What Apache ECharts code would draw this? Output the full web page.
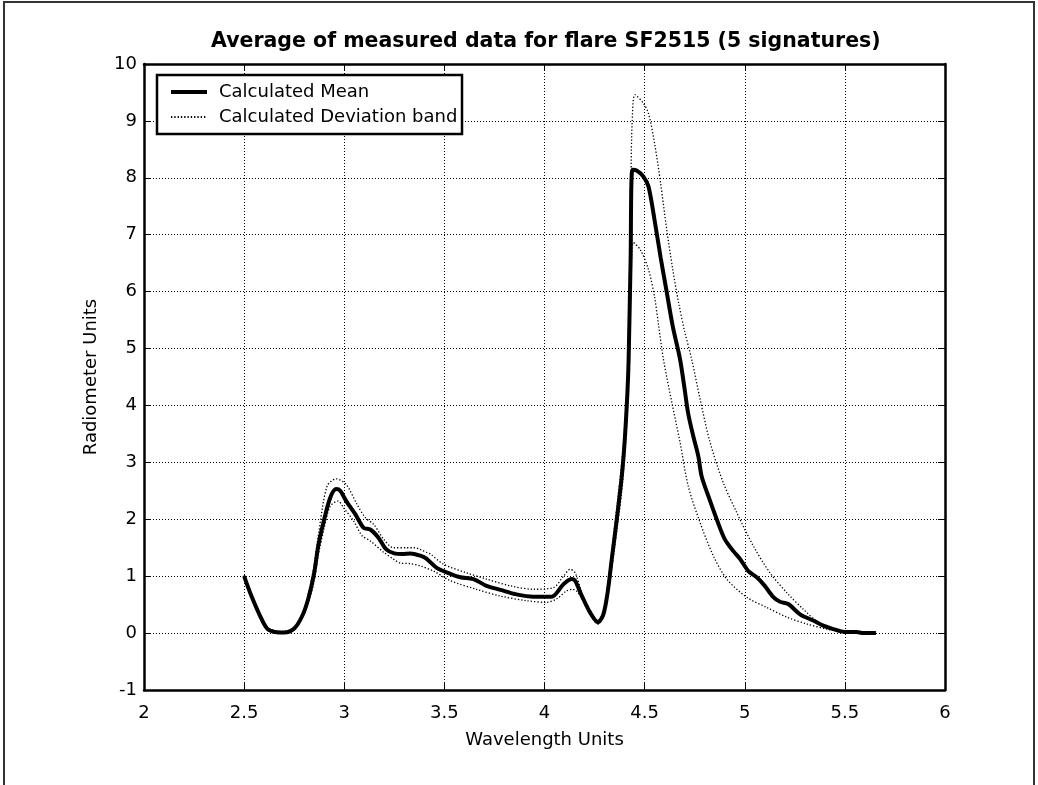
<!DOCTYPE html>
<html>
<head>
<meta charset="utf-8">
<script src="https://cdn.jsdelivr.net/npm/echarts@6/dist/echarts.min.js"></script>
<style>
html,body{margin:0;padding:0;background:#fff;}
#chart{width:1038px;height:785px;}
</style>
</head>
<body>
<div id="chart"></div>
<script>
// ---- data ----
const titleText = 'Average of measured data for flare SF2515 (5 signatures)';
const xName = 'Wavelength Units';
const yName = 'Radiometer Units';
const legendNames = ['Calculated Mean', 'Calculated Deviation band'];

const meanX = [2.50,2.53,2.58,2.615,2.655,2.70,2.75,2.79,2.82,2.85,2.87,2.90,2.93,2.96,2.98,3.01,3.055,3.097,3.13,3.17,3.21,3.25,3.29,3.33,3.38,3.41,3.46,3.53,3.58,3.645,3.71,3.78,3.86,3.945,4.035,4.095,4.137,4.153,4.187,4.228,4.267,4.294,4.315,4.336,4.361,4.386,4.40,4.414,4.42,4.43,4.439,4.46,4.494,4.519,4.55,4.58,4.61,4.64,4.677,4.70,4.718,4.743,4.768,4.785,4.818,4.86,4.90,4.943,4.977,5.018,5.06,5.10,5.143,5.176,5.217,5.276,5.342,5.392,5.442,5.50,5.559,5.59,5.655];
const meanY = [1.00,0.71,0.30,0.08,0.02,0.01,0.08,0.30,0.60,1.06,1.53,2.00,2.38,2.53,2.50,2.32,2.09,1.85,1.82,1.68,1.47,1.40,1.39,1.40,1.36,1.31,1.15,1.04,0.98,0.95,0.83,0.76,0.68,0.64,0.64,0.86,0.95,0.92,0.65,0.36,0.19,0.33,0.71,1.30,2.00,2.76,3.35,4.22,4.80,6.56,8.14,8.13,8.02,7.85,7.25,6.60,6.00,5.40,4.81,4.28,3.85,3.46,3.11,2.75,2.41,2.00,1.65,1.44,1.30,1.09,0.98,0.83,0.63,0.55,0.51,0.33,0.22,0.13,0.07,0.02,0.02,0.00,0.00];

const upperX = [2.50,2.53,2.58,2.615,2.655,2.70,2.75,2.79,2.82,2.85,2.87,2.914,2.96,3.01,3.064,3.105,3.147,3.197,3.246,3.313,3.35,3.38,3.41,3.43,3.496,3.61,3.71,3.83,3.945,4.045,4.095,4.128,4.153,4.187,4.228,4.267,4.294,4.315,4.336,4.361,4.386,4.40,4.414,4.425,4.432,4.438,4.452,4.494,4.52,4.55,4.58,4.61,4.64,4.67,4.70,4.735,4.777,4.827,4.893,4.96,5.043,5.126,5.21,5.292,5.376,5.44,5.50,5.559,5.655];
const upperY = [1.02,0.73,0.32,0.10,0.04,0.03,0.10,0.34,0.68,1.20,1.70,2.58,2.71,2.61,2.26,2.03,1.91,1.65,1.50,1.50,1.50,1.47,1.42,1.39,1.21,1.06,0.95,0.83,0.77,0.80,1.00,1.12,1.06,0.70,0.40,0.22,0.38,0.80,1.45,2.20,3.00,3.60,4.50,6.00,8.00,9.00,9.46,9.31,9.12,8.60,7.90,7.10,6.40,5.80,5.30,4.81,4.11,3.35,2.64,2.12,1.53,1.06,0.71,0.42,0.16,0.07,0.03,0.02,0.00];

const lowerX = [2.50,2.53,2.58,2.615,2.655,2.70,2.75,2.79,2.82,2.85,2.87,2.90,2.93,2.97,2.997,3.047,3.089,3.13,3.197,3.246,3.28,3.33,3.38,3.446,3.53,3.66,3.78,3.91,4.01,4.06,4.11,4.14,4.16,4.187,4.228,4.267,4.294,4.315,4.336,4.361,4.386,4.40,4.414,4.42,4.432,4.444,4.478,4.519,4.55,4.57,4.594,4.636,4.677,4.718,4.777,4.843,4.91,5.01,5.11,5.21,5.31,5.41,5.50,5.559,5.655];
const lowerY = [0.98,0.69,0.28,0.06,0.00,0.00,0.06,0.26,0.52,0.92,1.36,1.85,2.23,2.32,2.20,1.97,1.71,1.62,1.42,1.30,1.23,1.22,1.18,1.09,0.92,0.77,0.65,0.57,0.54,0.60,0.74,0.77,0.74,0.60,0.32,0.16,0.28,0.62,1.15,1.80,2.50,3.10,3.90,4.50,6.00,6.86,6.74,6.39,5.90,5.40,4.81,4.05,3.35,2.58,1.94,1.36,0.95,0.63,0.45,0.28,0.16,0.07,0.02,0.01,0.00];

const xMin = 2, xMax = 6, xStep = 0.5;
const yMin = -1, yMax = 10, yStep = 1;

const zip = (xs, ys) => xs.map((x, i) => [x, ys[i]]);

const FONT = 'DejaVu Sans';
const chart = echarts.init(document.getElementById('chart'), null, {renderer: 'canvas'});

const tickStyle = {show: true, inside: true, length: 7, lineStyle: {color: '#000', width: 1}};
const axisLineStyle = {show: true, onZero: false, lineStyle: {color: '#000', width: 2.5}};
const gridLine = {show: true, lineStyle: {color: '#000', width: 1, type: [1, 2]}};
const bandStyle = {color: '#000', width: 1.3, type: [1.3, 2]};
const meanStyle = {color: '#000', width: 4};

chart.setOption({
  backgroundColor: '#fff',
  animation: false,
  title: {
    text: titleText,
    left: 211,
    top: 31,
    padding: 0,
    textStyle: {fontFamily: FONT, fontSize: 20.5, fontWeight: 'bold', color: '#000'}
  },
  grid: {left: 144, right: 93, top: 64, bottom: 95, containLabel: false},
  legend: {
    data: [
      {name: legendNames[0], lineStyle: {width: 4}},
      {name: legendNames[1]}
    ],
    orient: 'vertical',
    left: 169,
    top: 83,
    padding: 0,
    itemWidth: 36,
    itemHeight: 18,
    itemGap: 7,
    z: 10,
    itemStyle: {opacity: 0},
    textStyle: {fontFamily: FONT, fontSize: 18, color: '#000', lineHeight: 18, padding: [0, 0, 0, 7]}
  },
  graphic: [
    {type: 'rect', z: 0, silent: true, shape: {x: 4, y: 2, width: 1030, height: 820},
     style: {fill: 'none', stroke: '#333', lineWidth: 2}},
    {type: 'rect', z: 9, silent: true, shape: {x: 157, y: 75, width: 305, height: 59},
     style: {fill: '#fff', stroke: '#000', lineWidth: 2.5}}
  ],
  xAxis: [
    {
      type: 'value', min: xMin, max: xMax, interval: xStep, position: 'bottom',
      name: xName, nameLocation: 'middle', nameGap: 41,
      nameTextStyle: {fontFamily: FONT, fontSize: 18, color: '#000'},
      axisLine: axisLineStyle, axisTick: tickStyle, splitLine: gridLine,
      axisLabel: {fontFamily: FONT, fontSize: 18, color: '#000', margin: 14}
    },
    {
      type: 'value', min: xMin, max: xMax, interval: xStep, position: 'top',
      axisLine: axisLineStyle, axisTick: tickStyle, splitLine: {show: false},
      axisLabel: {show: false}
    }
  ],
  yAxis: [
    {
      type: 'value', min: yMin, max: yMax, interval: yStep, position: 'left',
      name: yName, nameLocation: 'middle', nameGap: 44,
      nameTextStyle: {fontFamily: FONT, fontSize: 18, color: '#000'},
      axisLine: axisLineStyle, axisTick: tickStyle, splitLine: gridLine,
      axisLabel: {fontFamily: FONT, fontSize: 18, color: '#000', margin: 7}
    },
    {
      type: 'value', min: yMin, max: yMax, interval: yStep, position: 'right',
      axisLine: axisLineStyle, axisTick: tickStyle, splitLine: {show: false},
      axisLabel: {show: false}
    }
  ],
  series: [
    {
      name: legendNames[0], type: 'line', data: zip(meanX, meanY),
      symbol: 'none', showSymbol: false, smooth: 0.3, z: 3,
      lineStyle: meanStyle, itemStyle: {color: '#000'}
    },
    {
      name: legendNames[1], type: 'line', data: zip(upperX, upperY),
      symbol: 'none', showSymbol: false, smooth: 0.3, z: 2,
      lineStyle: bandStyle, itemStyle: {color: '#000'}
    },
    {
      name: legendNames[1], type: 'line', data: zip(lowerX, lowerY),
      symbol: 'none', showSymbol: false, smooth: 0.3, z: 2,
      lineStyle: bandStyle, itemStyle: {color: '#000'}
    }
  ]
});
</script>
</body>
</html>
